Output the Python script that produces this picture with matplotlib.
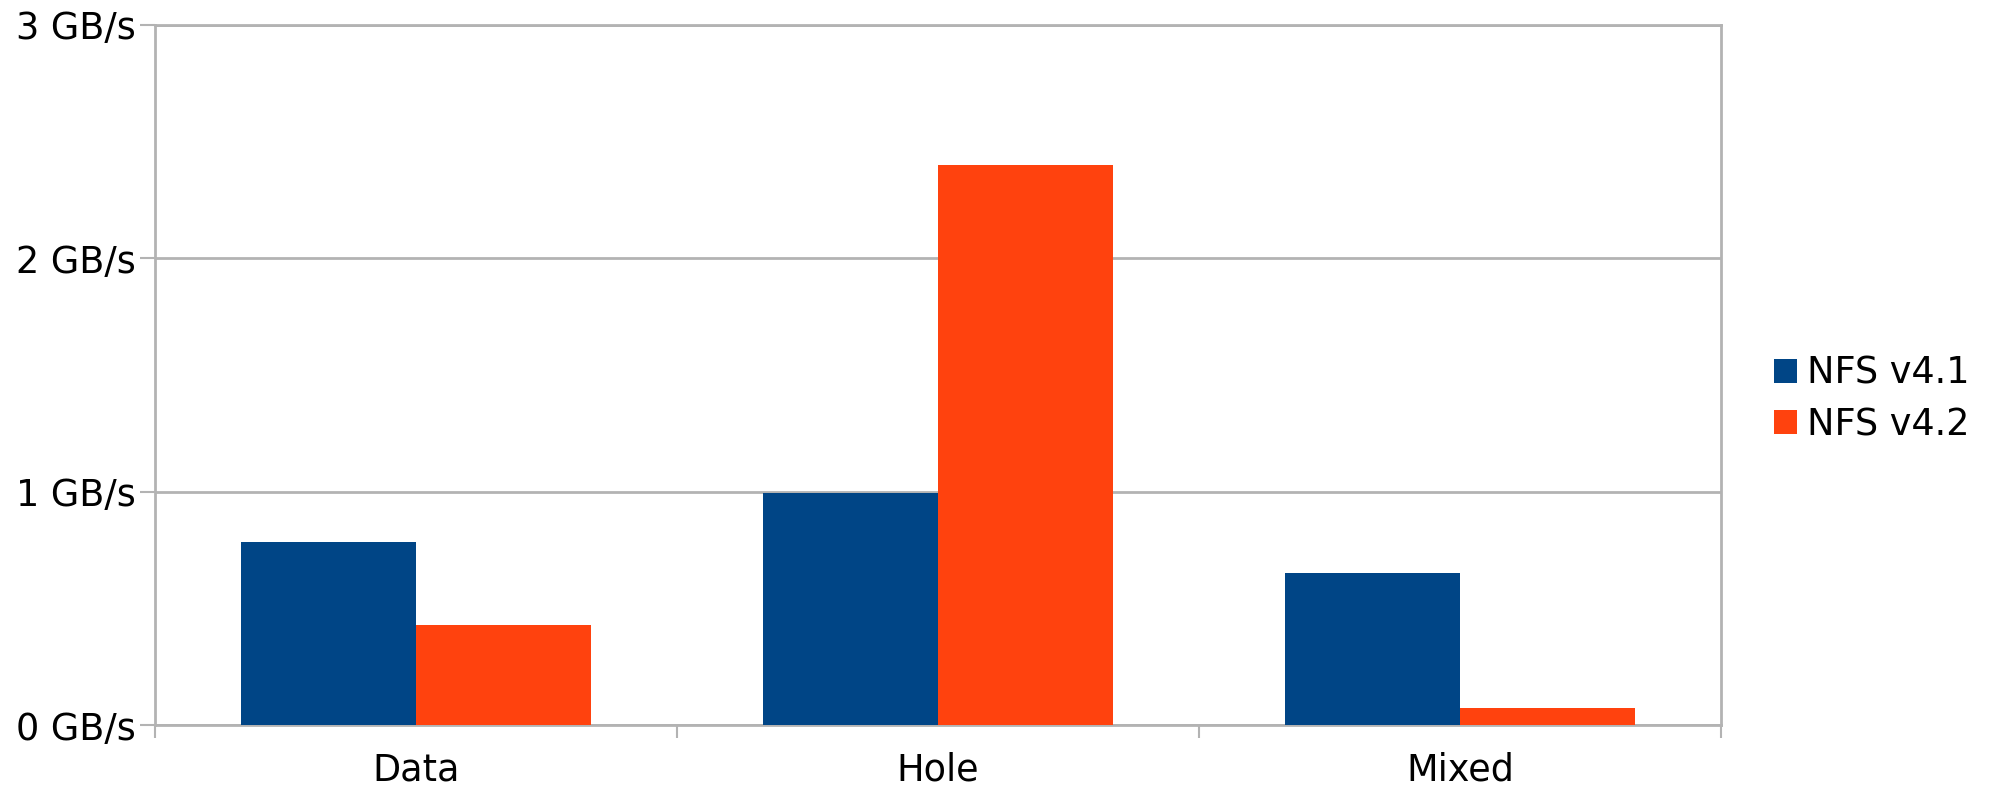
import matplotlib
matplotlib.use("Agg")
import matplotlib.pyplot as plt
import numpy as np

categories = ["Data", "Hole", "Mixed"]
nfs41 = [0.785, 0.995, 0.651]
nfs42 = [0.428, 2.40, 0.073]
series_names = ["NFS v4.1", "NFS v4.2"]
y_ticks = [0, 1, 2, 3]
y_labels = ["0 GB/s", "1 GB/s", "2 GB/s", "3 GB/s"]

BLUE = "#004586"
ORANGE = "#ff420e"
GRID = "#b3b3b3"

plt.rcParams["font.family"] = "DejaVu Sans"

fig = plt.figure(figsize=(19.94, 7.86), dpi=100)
ax = fig.add_axes([0.0777, 0.0776, 0.7856, 0.8912])

x = np.arange(len(categories))
w = 0.335
ax.bar(x - w / 2, nfs41, width=w, color=BLUE, label=series_names[0], zorder=3)
ax.bar(x + w / 2, nfs42, width=w, color=ORANGE, label=series_names[1], zorder=3)

ax.set_xlim(-0.5, len(categories) - 0.5)
ax.set_ylim(0, 3)

ax.set_yticks(y_ticks)
ax.set_yticklabels(y_labels)
ax.yaxis.grid(True, color=GRID, linewidth=2, zorder=0)

# category labels sit between the boundary ticks
ax.set_xticks(x)
ax.set_xticklabels(categories)
ax.set_xticks(np.arange(-0.5, len(categories)), minor=True)
ax.tick_params(axis="x", which="major", length=0, pad=19, labelsize=26.4)
ax.tick_params(axis="x", which="minor", length=9, width=1.5, color=GRID)
ax.tick_params(axis="y", length=11, width=1.5, color=GRID, pad=3, labelsize=26.4)

for s in ax.spines.values():
    s.set_color(GRID)
    s.set_linewidth(2)

ax.legend(loc="center left", bbox_to_anchor=(0.8895, 0.4925),
          bbox_transform=fig.transFigure, frameon=False, fontsize=26.4,
          handlelength=0.64, handleheight=0.64, handletextpad=0.28,
          labelspacing=0.39, borderpad=0, borderaxespad=0)

fig.savefig("out.png", dpi=100, facecolor="white")
plt.close(fig)
